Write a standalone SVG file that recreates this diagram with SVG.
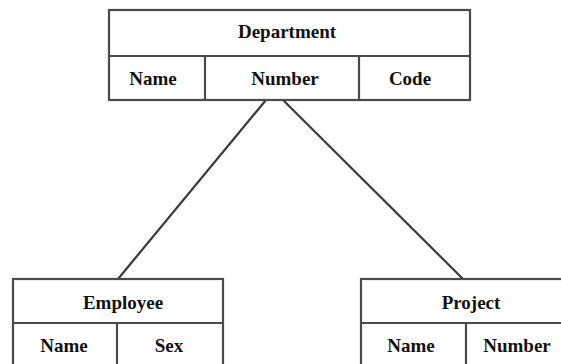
<svg xmlns="http://www.w3.org/2000/svg" width="561" height="364" viewBox="0 0 561 364">
  <style>
    .box { fill: #ffffff; stroke: #4a4a4a; stroke-width: 2.2; }
    .div { stroke: #4a4a4a; stroke-width: 2.2; fill: none; }
    .link { stroke: #3a3a3a; stroke-width: 2.2; fill: none; }
    text { font-family: "Liberation Serif", "Times New Roman", serif; font-weight: bold; font-size: 19px; fill: #111111; text-anchor: middle; }
  </style>
  <rect width="561" height="364" fill="#ffffff"/>

  <!-- relationships from Department to its entities -->
  <g id="connectors">
    <line class="link" x1="266" y1="100" x2="118" y2="279"/>
    <line class="link" x1="283" y1="100" x2="463" y2="279"/>
  </g>

  <g id="department">
    <rect class="box" x="109" y="10" width="361" height="90"/>
    <line class="div" x1="109" y1="56" x2="470" y2="56"/>
    <line class="div" x1="205" y1="56" x2="205" y2="100"/>
    <line class="div" x1="359" y1="56" x2="359" y2="100"/>
    <text x="287" y="38">Department</text>
    <text x="153" y="85">Name</text>
    <text x="285" y="85">Number</text>
    <text x="410" y="85">Code</text>
  </g>

  <g id="employee">
    <rect class="box" x="13" y="279" width="210" height="100"/>
    <line class="div" x1="13" y1="323" x2="223" y2="323"/>
    <line class="div" x1="117" y1="323" x2="117" y2="379"/>
    <text x="123" y="309">Employee</text>
    <text x="64" y="352">Name</text>
    <text x="169" y="352">Sex</text>
  </g>

  <g id="project">
    <rect class="box" x="361" y="279" width="210" height="100"/>
    <line class="div" x1="361" y1="323" x2="571" y2="323"/>
    <line class="div" x1="466" y1="323" x2="466" y2="379"/>
    <text x="471" y="309">Project</text>
    <text x="411" y="352">Name</text>
    <text x="517" y="352">Number</text>
  </g>
</svg>
